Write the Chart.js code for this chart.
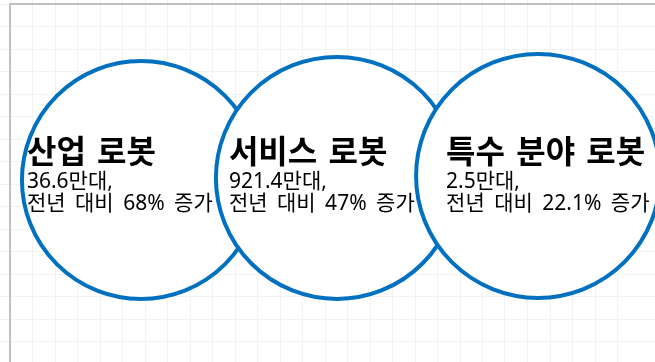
<!DOCTYPE html>
<html><head><meta charset="utf-8">
<script src="https://cdn.jsdelivr.net/npm/chart.js@4/dist/chart.umd.min.js"></script>
<style>
html,body{margin:0;padding:0;background:#fff;overflow:hidden}
#wrap{position:relative;width:655px;height:362px}
</style></head>
<body><div id="wrap"><canvas id="c"></canvas></div>
<script>
// ---- data ----
const categories = ['산업 로봇', '서비스 로봇', '특수 분야 로봇'];
const unitLabels = ['36.6만대,', '921.4만대,', '2.5만대,'];
const growthLabels = ['전년 대비 68% 증가', '전년 대비 47% 증가', '전년 대비 22.1% 증가'];
const xValues = [5.82, 14.53, 23.47];
const yValues = [7.82, 7.73, 7.64];
const bubbleSizes = [119, 121, 122];

const points = xValues.map((x, i) => ({x: x, y: yValues[i], r: bubbleSizes[i]}));

const textPlugin = {
  id: 'bubbleText',
  afterDatasetsDraw(chart, args, opts) {
    const ctx = chart.ctx;
    const meta = chart.getDatasetMeta(0);
    const midY = meta.data.reduce((s, e) => s + e.y, 0) / meta.data.length;
    ctx.save();
    ctx.fillStyle = '#000';
    ctx.textAlign = 'left';
    ctx.textBaseline = 'alphabetic';
    meta.data.forEach((el, i) => {
      const x = el.x + opts.offsetX[i];
      try { ctx.wordSpacing = opts.titleWordSpacing; } catch (e) {}
      ctx.font = 'bold 32px "Noto Sans CJK KR", sans-serif';
      ctx.fillText(categories[i], x, midY + opts.titleDy);
      try { ctx.wordSpacing = opts.bodyWordSpacing; } catch (e) {}
      ctx.font = '21px "Noto Sans", "Noto Sans CJK KR", sans-serif';
      ctx.fillText(unitLabels[i], x, midY + opts.line2Dy);
      ctx.fillText(growthLabels[i], x, midY + opts.line3Dy);
    });
    ctx.restore();
  }
};

new Chart(document.getElementById('c'), {
  type: 'bubble',
  data: {
    datasets: [{
      data: points,
      backgroundColor: '#ffffff',
      borderColor: '#0070C0',
      borderWidth: 4,
      hoverBorderWidth: 4,
      hoverRadius: 0,
      clip: false
    }]
  },
  options: {
    responsive: true,
    maintainAspectRatio: false,
    animation: false,
    events: [],
    layout: {padding: 0, autoPadding: false},
    plugins: {
      legend: {display: false},
      tooltip: {enabled: false},
      bubbleText: {offsetX: [-114, -108, -92], titleDy: -15, line2Dy: 10, line3Dy: 32,
                   titleWordSpacing: '4px', bodyWordSpacing: '4px'}
    },
    scales: {
      x: {
        type: 'linear', position: 'top', min: 0, max: 645 / 22.5,
        ticks: {display: false, stepSize: 1},
        grid: {color: '#f2f2f2', drawTicks: true, tickLength: 4},
        border: {color: '#c0c0c0', width: 2}
      },
      y: {
        type: 'linear', position: 'left', reverse: true, min: 0, max: 358 / 22.5,
        ticks: {display: false, stepSize: 1},
        grid: {color: '#f2f2f2', drawTicks: true, tickLength: 10},
        border: {color: '#c0c0c0', width: 2}
      }
    }
  },
  plugins: [textPlugin]
});
</script>
</body></html>
